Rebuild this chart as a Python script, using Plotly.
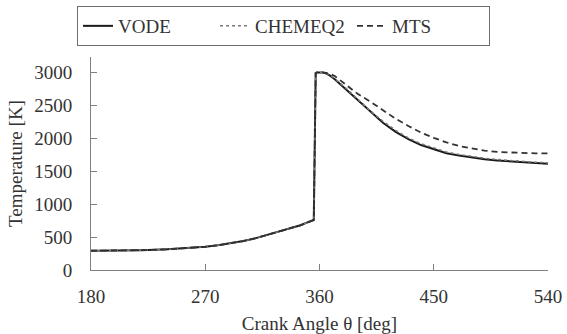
import plotly.graph_objects as go

angle = [180, 200, 220, 240, 260, 270, 280, 290, 300, 310, 320, 330, 340, 345, 350,
         354, 355.5, 356, 356.5, 357, 358, 360, 362, 365, 368, 372, 376, 380, 390,
         400, 410, 420, 430, 440, 450, 460, 470, 480, 490, 500, 510, 520, 530, 540]

vode = [293, 295, 302, 315, 335, 352, 375, 405, 440, 485, 540, 600, 655, 680, 720,
        745, 760, 1500, 2900, 2995, 3005, 3010, 3005, 2990, 2960, 2900, 2830, 2760, 2580,
        2400, 2240, 2100, 1990, 1900, 1840, 1775, 1740, 1710, 1685, 1665, 1650, 1635, 1625, 1615]

chemeq2 = [293, 295, 302, 315, 335, 352, 375, 405, 440, 485, 540, 600, 655, 680, 720,
           745, 760, 1500, 2900, 2995, 3005, 3010, 3005, 2992, 2965, 2910, 2845, 2778, 2600,
           2420, 2262, 2122, 2010, 1920, 1858, 1793, 1757, 1726, 1700, 1680, 1664, 1649, 1639, 1629]

mts = [293, 295, 302, 315, 335, 352, 375, 405, 440, 485, 540, 600, 655, 680, 720,
       745, 760, 1500, 2900, 2995, 3005, 3010, 3008, 2998, 2985, 2950, 2890, 2830, 2680,
       2560, 2430, 2300, 2190, 2090, 2010, 1940, 1885, 1845, 1815, 1795, 1785, 1778, 1774, 1772]

x_ticks = [180, 270, 360, 450, 540]
y_ticks = [0, 500, 1000, 1500, 2000, 2500, 3000]

FONT = "'Liberation Serif', 'Times New Roman', serif"
TXT = "#333333"
AX = "#808080"

fig = go.Figure()
fig.add_trace(go.Scatter(x=angle, y=vode, mode="lines", name="VODE",
                         line=dict(color="#1a1a1a", width=2, dash="solid")))
fig.add_trace(go.Scatter(x=angle, y=chemeq2, mode="lines", name="CHEMEQ2",
                         line=dict(color="#7a7a7a", width=1.5, dash="dot")))
fig.add_trace(go.Scatter(x=angle, y=mts, mode="lines", name="MTS",
                         line=dict(color="#333333", width=1.8, dash="6px,4px")))

fig.update_layout(
    width=567, height=334,
    margin=dict(l=91, r=19, t=57, b=64, autoexpand=False),
    paper_bgcolor="white", plot_bgcolor="white",
    font=dict(family=FONT, size=19, color=TXT),
    showlegend=True,
    legend=dict(orientation="h", xref="container", yref="container",
                x=0.5, xanchor="center", y=1 - 6 / 334, yanchor="top",
                bordercolor="#6e6e6e", borderwidth=1,
                font=dict(family=FONT, size=19, color=TXT),
                entrywidth=92, entrywidthmode="pixels"),
    xaxis=dict(range=[180, 540], tickvals=x_ticks, ticks="inside", ticklen=6,
               tickcolor=AX, showline=True, linecolor=AX, linewidth=1,
               showgrid=False, zeroline=False, ticklabelstandoff=9,
               title=dict(text="Crank Angle θ [deg]", standoff=10,
                          font=dict(family=FONT, size=19, color=TXT))),
    yaxis=dict(range=[0, 3239], tickvals=y_ticks, ticks="inside", ticklen=6,
               tickcolor=AX, showline=True, linecolor=AX, linewidth=1,
               showgrid=False, zeroline=False, ticklabelstandoff=14,
               title=dict(text="Temperature [K]", standoff=6,
                          font=dict(family=FONT, size=19, color=TXT))),
)

fig.write_html("out.html")
